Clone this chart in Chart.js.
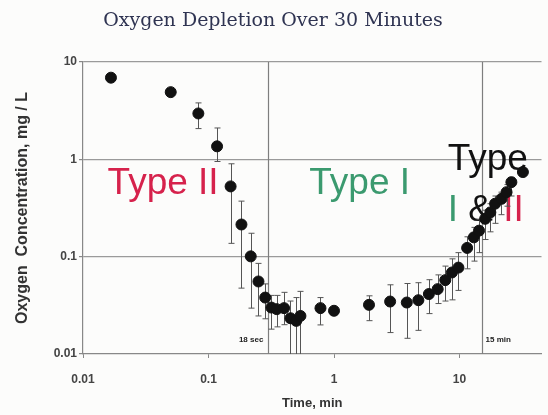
<!DOCTYPE html>
<html>
<head>
<meta charset="utf-8">
<script src="https://cdn.jsdelivr.net/npm/chart.js@4.4.1/dist/chart.umd.min.js"></script>
<style>
    html, body { margin: 0; padding: 0; background: #fcfcfb; }
    #wrap { width: 548px; height: 415px; }
</style>
</head>
<body>
<div id="wrap"><canvas id="oxyChart" width="548" height="415"></canvas></div>
<script>
// time in minutes, mean O2 in mg/L, error bar ends (null = no bar)
const timeMin = [0.0167, 0.05, 0.083, 0.117, 0.15, 0.183, 0.217, 0.25, 0.283, 0.317, 0.35, 0.40, 0.45, 0.50, 0.54,
    0.78, 1.0, 1.9, 2.8, 3.8, 4.7, 5.7, 6.7, 7.7, 8.7, 9.8, 11.5, 13.0, 14.3, 16.0, 17.6, 19.2, 21.6, 23.7, 25.9, 32];
const oxygen = [6.9, 4.9, 2.96, 1.36, 0.527, 0.214, 0.1007, 0.0556, 0.038, 0.030, 0.0289, 0.0296, 0.0233, 0.0219, 0.0246,
    0.0296, 0.0278, 0.032, 0.0346, 0.0338, 0.0357, 0.0413, 0.0464, 0.0574, 0.0688, 0.0772, 0.123, 0.158, 0.185, 0.245, 0.285, 0.35, 0.393, 0.46, 0.583, 0.74];
const errLow = [null, null, 2.07, 0.95, 0.137, 0.0475, 0.0296, 0.0246, 0.023, 0.018, 0.019, 0.020, 0.005, 0.005, 0.005,
    0.0199, null, 0.022, 0.0166, 0.0145, 0.0175, 0.026, 0.033, 0.035, 0.036, 0.045, 0.075, 0.09, 0.11, 0.15, 0.18, 0.22, 0.27, 0.33, 0.42, null];
const errHigh = [null, null, 3.8, 2.1, 0.90, 0.372, 0.174, 0.0853, 0.0525, 0.040, 0.040, 0.043, 0.035, 0.038, 0.044,
    0.038, null, 0.0396, 0.0514, 0.053, 0.054, 0.058, 0.065, 0.080, 0.095, 0.11, 0.16, 0.2, 0.24, 0.3, 0.35, 0.42, 0.46, 0.55, 0.65, null];

const xTicks = [0.01, 0.1, 1, 10];
const yTicks = [0.01, 0.1, 1, 10];
const markerTimes = [0.3, 15];
const markerLabels = ["18 sec", "15 min"];

const RED = "#d6224c";
const GREEN = "#3b9a6f";

/* ================= EXTRA DRAWING ================= */
const overlayPlugin = {
    id: "overlay",
    beforeDatasetsDraw(chart) {
        const { ctx, chartArea, scales } = chart;
        const x = scales.x, y = scales.y;
        ctx.save();
        ctx.beginPath();
        ctx.rect(chartArea.left, chartArea.top, chartArea.right - chartArea.left, chartArea.bottom - chartArea.top);
        ctx.clip();

        // phase markers
        ctx.strokeStyle = "#7e7e7e";
        ctx.lineWidth = 1.2;
        markerTimes.forEach(t => {
            const px = Math.round(x.getPixelForValue(t)) + 0.5;
            ctx.beginPath();
            ctx.moveTo(px, chartArea.top);
            ctx.lineTo(px, chartArea.bottom);
            ctx.stroke();
        });

        ctx.font = "bold 8px 'Liberation Sans', Arial, sans-serif";
        ctx.fillStyle = "#222";
        ctx.textBaseline = "alphabetic";
        ctx.textAlign = "right";
        ctx.fillText(markerLabels[0], x.getPixelForValue(markerTimes[0]) - 5, y.getPixelForValue(0.0133));
        ctx.textAlign = "left";
        ctx.fillText(markerLabels[1], x.getPixelForValue(markerTimes[1]) + 4, y.getPixelForValue(0.0133));

        // region labels
        ctx.font = "37px 'Liberation Sans', Arial, sans-serif";
        ctx.textAlign = "left";
        ctx.fillStyle = RED;
        ctx.fillText("Type II", x.getPixelForValue(0.0157), y.getPixelForValue(0.44));
        ctx.fillStyle = GREEN;
        ctx.fillText("Type I", x.getPixelForValue(0.635), y.getPixelForValue(0.44));
        const lx = x.getPixelForValue(8.05);
        ctx.fillStyle = "#111";
        ctx.fillText("Type", lx, y.getPixelForValue(0.77));
        const ly = y.getPixelForValue(0.23);
        ctx.fillStyle = GREEN;
        ctx.fillText("I", lx, ly);
        let off = ctx.measureText("I ").width;
        ctx.fillStyle = "#111";
        ctx.fillText("&", lx + off, ly);
        off += ctx.measureText("& ").width;
        ctx.fillStyle = RED;
        ctx.fillText("II", lx + off, ly);

        // error bars
        ctx.strokeStyle = "#555";
        ctx.lineWidth = 1;
        timeMin.forEach((t, i) => {
            if (errLow[i] == null) return;
            const px = Math.round(x.getPixelForValue(t)) + 0.5;
            const top = y.getPixelForValue(errHigh[i]);
            const bot = y.getPixelForValue(errLow[i]);
            ctx.beginPath();
            ctx.moveTo(px, top);
            ctx.lineTo(px, bot);
            ctx.moveTo(px - 3, top);
            ctx.lineTo(px + 3, top);
            ctx.moveTo(px - 3, bot);
            ctx.lineTo(px + 3, bot);
            ctx.stroke();
        });
        ctx.restore();
    }
};

const tickFont = { family: "'Liberation Sans', Arial, sans-serif", size: 12, weight: "bold" };

new Chart(document.getElementById("oxyChart"), {
    type: "scatter",
    data: {
        datasets: [{
            data: timeMin.map((t, i) => ({ x: t, y: oxygen[i] })),
            backgroundColor: "#111",
            borderColor: "#111",
            pointRadius: 5.5,
            pointHoverRadius: 5.5
        }]
    },
    options: {
        responsive: false,
        animation: false,
        layout: { padding: { left: 0, right: 2, top: 0, bottom: 0 } },
        plugins: {
            legend: { display: false },
            tooltip: { enabled: false },
            title: {
                display: true,
                text: "Oxygen Depletion Over 30 Minutes",
                color: "#2f3452",
                font: { family: "'DejaVu Serif', Georgia, serif", size: 19, weight: "normal" },
                padding: { top: 10, bottom: 29.2 }
            }
        },
        scales: {
            x: {
                type: "logarithmic",
                min: 0.01,
                max: 45,
                afterBuildTicks: s => { s.ticks = xTicks.map(v => ({ value: v })); },
                afterFit: s => { s.height = 61; },
                ticks: {
                    color: "#444",
                    font: tickFont,
                    maxRotation: 0,
                    autoSkip: false,
                    padding: 14,
                    callback: v => String(v)
                },
                grid: { drawOnChartArea: false, tickLength: 4, color: "#888" },
                border: { color: "#888", width: 1.2 },
                title: {
                    display: true,
                    text: "Time, min",
                    color: "#333",
                    font: { family: "'Liberation Sans', Arial, sans-serif", size: 13, weight: "bold" },
                    padding: { top: 0, bottom: 4 }
                }
            },
            y: {
                type: "logarithmic",
                min: 0.01,
                max: 10,
                afterBuildTicks: s => { s.ticks = yTicks.map(v => ({ value: v })); },
                afterFit: s => { s.width = 83; },
                ticks: {
                    color: "#444",
                    font: tickFont,
                    autoSkip: false,
                    padding: 2,
                    callback: v => String(v)
                },
                grid: {
                    color: c => (c.tick && c.tick.value > 0.05) ? "#9a9a9a" : "rgba(0,0,0,0)",
                    tickColor: "#888",
                    tickLength: 4,
                    lineWidth: 1.2
                },
                border: { color: "#888", width: 1.2 },
                title: {
                    display: true,
                    text: "Oxygen  Concentration, mg / L",
                    color: "#333",
                    font: { family: "'Liberation Sans', Arial, sans-serif", size: 16, weight: "bold" },
                    padding: { top: 13, bottom: 0 }
                }
            }
        }
    },
    plugins: [overlayPlugin]
});
</script>
</body>
</html>
